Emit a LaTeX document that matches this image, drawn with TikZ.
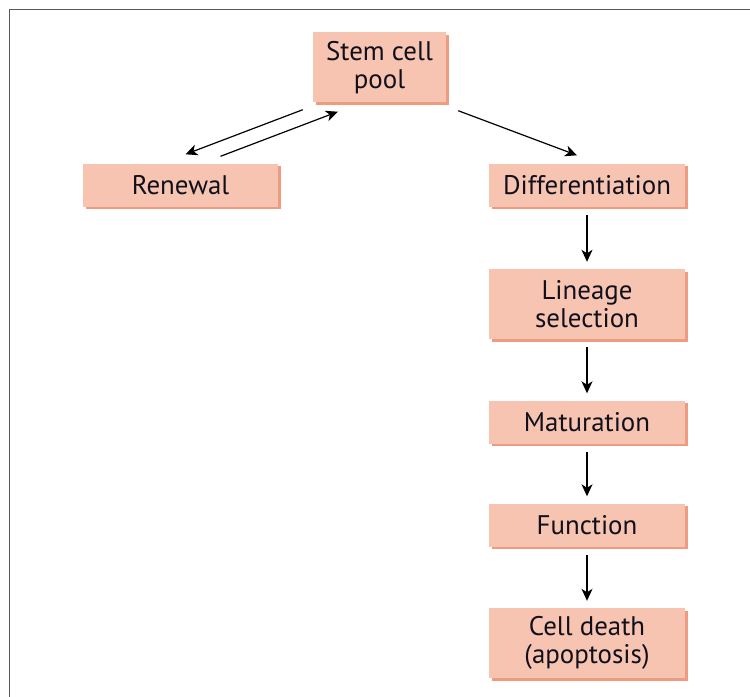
\documentclass[tikz,border=0pt]{standalone}
\usepackage{fontspec}
\setmainfont{PT Sans}
\usetikzlibrary{arrows.meta,calc,shadows}
\definecolor{boxfill}{HTML}{F7C4B1}
\definecolor{boxedge}{HTML}{EE9B82}
\definecolor{inkcol}{HTML}{10101C}
\tikzset{
  stage/.style={rectangle, fill=boxfill, inner sep=0pt, align=center,
    minimum width=196bp, minimum height=43bp, text=inkcol,
    font=\fontsize{27}{28}\selectfont,
    drop shadow={shadow xshift=2.5bp, shadow yshift=-2.5bp, fill=boxedge, opacity=1}},
  tall/.style={minimum height=70bp},
  flow/.style={-{Stealth[length=12bp,width=11bp,inset=3.5bp]}, line width=1.2bp, black},
}
\begin{document}
\begin{tikzpicture}[x=1bp,y=-1bp]
  \useasboundingbox (0,0) rectangle (750,697);
  % frame
  \draw[line width=1.6bp, black!65] (9.5,710) -- (9.5,9.5) -- (760,9.5);
  % stages
  \node[stage, tall, minimum width=133bp] (stem) at (379.5,67.5) {Stem cell\\pool};
  \node[stage, minimum width=195bp] (renewal) at (180.5,185) {Renewal};
  \node[stage] (diff) at (587,185) {Differentiation};
  \node[stage, tall] (lineage) at (587,304) {Lineage\\selection};
  \node[stage] (maturation) at (587,422) {Maturation};
  \node[stage] (function) at (587,525) {Function};
  \node[stage, tall] (death) at (587,643) {Cell death\\(apoptosis)};
  % connectors
  \begin{scope}[flow]
    \draw ($(stem.south west)+(-10,7)$) to ($(renewal.north)+(5,-9)$);
    \draw ($(renewal.north)+(40,-7)$) to ($(stem.south west)+(25,9)$);
    \draw ($(stem.south east)+(12,8)$) to ($(diff.north)+(-10,-8)$);
  \end{scope}
  \begin{scope}[flow, shorten <=8bp, shorten >=7bp]
    \draw (diff) to (lineage);
    \draw (lineage) to (maturation);
    \draw (maturation) to (function);
    \draw (function) to (death);
  \end{scope}
\end{tikzpicture}
\end{document}
